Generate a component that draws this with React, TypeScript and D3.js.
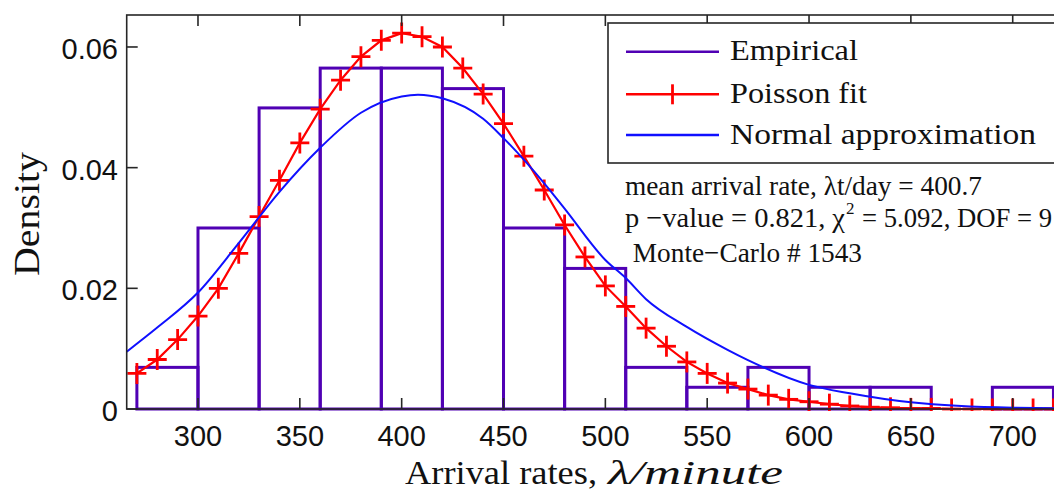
import React from "react";
import * as d3 from "d3";

// ---- data ----
const binStarts = [270, 300, 330, 360, 390, 420, 450, 480, 510, 540, 570, 600, 630, 660, 690];
const binWidth = 30;
const empiricalDensity = [0.0069, 0.0300, 0.0499, 0.0565, 0.0565, 0.0531, 0.0300, 0.0233, 0.0069, 0.0036, 0.0069, 0.0036, 0.0036, 0, 0.0036];

const poissonX = [270, 280, 290, 300, 310, 320, 330, 340, 350, 360, 370, 380, 390, 400, 410, 420, 430, 440, 450, 460, 470, 480, 490, 500, 510, 520, 530, 540, 550, 560, 570, 580, 590, 600, 610, 620, 630, 640, 650, 660, 670, 680, 690, 700, 710, 720, 730];
const poissonY = [0.0059, 0.0082, 0.0115, 0.0154, 0.0200, 0.0258, 0.0319, 0.0379, 0.0441, 0.0497, 0.0545, 0.0584, 0.0611, 0.0623, 0.0617, 0.0600, 0.0565, 0.0522, 0.0473, 0.0419, 0.0363, 0.0305, 0.0252, 0.0204, 0.0170, 0.0134, 0.0104, 0.0078, 0.0059, 0.0043, 0.0033, 0.0023, 0.0016, 0.0012, 0.0008, 0.0005, 0.0003, 0.0002, 0.0001, 0.0001, 0, 0, 0, 0, 0, 0, 0];

const normalX = [265, 280, 300, 320, 340, 360, 380, 400, 408, 420, 440, 450, 470, 480, 500, 510, 520, 540, 560, 570, 600, 620, 650, 700, 735];
const normalY = [0.0095, 0.0135, 0.0193, 0.0275, 0.0360, 0.0433, 0.0491, 0.0518, 0.0521, 0.0515, 0.0481, 0.0449, 0.0374, 0.0332, 0.0247, 0.0217, 0.0182, 0.0136, 0.0098, 0.0081, 0.0040, 0.0026, 0.0011, 0.0002, 0.0001];

const xTicks = [300, 350, 400, 450, 500, 550, 600, 650, 700];
const yTicks = [0, 0.02, 0.04, 0.06];
const yTickLabels = ["0", "0.02", "0.04", "0.06"];

const legendLabels = ["Empirical", "Poisson fit", "Normal approximation"];
const annotation1 = "mean arrival rate, \u03bbt/day = 400.7";
const annotation2a = "p \u2212value = 0.821, \u03c7";
const annotation2b = "2";
const annotation2c = "= 5.092, DOF = 9";
const annotation3 = " Monte\u2212Carlo # 1543";

const PURPLE = "#5000b4";
const RED = "#ff0000";
const BLUE = "#1010ff";
const AXIS = "#262626";
const SERIF = "'Liberation Serif', 'Times New Roman', serif";
const SANS = "'Liberation Sans', Arial, Helvetica, sans-serif";

export default function App() {
  const W = 1054, H = 490;
  const x = d3.scaleLinear().domain([265, 735]).range([126.7, 1084]);
  const y = d3.scaleLinear().domain([0, 0.0653]).range([409, 15]);
  const left = x(265), right = x(735), top = y(0.0653), bottom = y(0);

  const poissonPts: [number, number][] = poissonX.map((v, i) => [v, poissonY[i]]);
  const normalPts: [number, number][] = normalX.map((v, i) => [v, normalY[i]]);
  const redLine = d3.line<[number, number]>().x(d => x(d[0])).y(d => y(d[1]))(poissonPts) || "";
  const blueLine = d3.line<[number, number]>().x(d => x(d[0])).y(d => y(d[1])).curve(d3.curveMonotoneX)(normalPts) || "";

  const M = 9.5;
  const tickLen = 11;

  const legY = [51.7, 94.3, 135];
  const legColors = [PURPLE, RED, BLUE];
  const legTextW = [128, 137, 306];

  return (
    <div style={{ position: "absolute", left: 0, top: 0, width: W, height: H, overflow: "hidden", background: "#fff" }}>
      <svg width={W} height={H} style={{ display: "block" }}>
        <defs>
          <clipPath id="plot">
            <rect x={left} y={top - 2} width={right - left} height={bottom - top + 4} />
          </clipPath>
        </defs>
        <rect x={0} y={0} width={W} height={H} fill="#fff" />
        <g clipPath="url(#plot)">
          {binStarts.map((b, i) =>
            empiricalDensity[i] > 0 ? (
              <rect key={"bar" + i} x={x(b)} y={y(empiricalDensity[i])} width={x(b + binWidth) - x(b)} height={bottom - y(empiricalDensity[i])}
                fill="none" stroke={PURPLE} strokeWidth={3} />
            ) : null
          )}
          <path d={redLine} fill="none" stroke={RED} strokeWidth={2.2} />
          {poissonPts.map((p, i) => (
            <g key={"m" + i} stroke={RED} strokeWidth={2.8}>
              <line x1={x(p[0]) - M} x2={x(p[0]) + M} y1={y(p[1])} y2={y(p[1])} />
              <line x1={x(p[0])} x2={x(p[0])} y1={y(p[1]) - M - 1} y2={y(p[1]) + M + 1} />
            </g>
          ))}
          <path d={blueLine} fill="none" stroke={BLUE} strokeWidth={2} />
        </g>
        {/* axes box */}
        <rect x={left} y={top} width={right - left} height={bottom - top} fill="none" stroke={AXIS} strokeWidth={1.6} />
        {xTicks.map(t => (
          <g key={"xt" + t} stroke={AXIS} strokeWidth={1.6}>
            <line x1={x(t)} x2={x(t)} y1={bottom} y2={bottom - tickLen} />
            <line x1={x(t)} x2={x(t)} y1={top} y2={top + tickLen} />
          </g>
        ))}
        {yTicks.map(t => (
          <line key={"yt" + t} x1={left} x2={left + tickLen} y1={y(t)} y2={y(t)} stroke={AXIS} strokeWidth={1.6} />
        ))}
        {xTicks.map(t => (
          <text key={"xl" + t} x={x(t)} y={446} textAnchor="middle" fontFamily={SANS} fontSize={29} fill="#111">{t}</text>
        ))}
        {yTicks.map((t, i) => (
          <text key={"yl" + t} x={118} y={y(t) + 12} textAnchor="end" fontFamily={SANS} fontSize={29} fill="#111">{yTickLabels[i]}</text>
        ))}
        {/* axis labels */}
        <text x={405} y={484} fontFamily={SERIF} fontSize={34} fill="#111" textLength={192} lengthAdjust="spacingAndGlyphs">Arrival rates,</text>
        <text x={608} y={484} fontFamily={SERIF} fontSize={34} fontStyle="italic" fill="#111" textLength={175} lengthAdjust="spacingAndGlyphs">{"\u03bb/minute"}</text>
        <text transform="translate(39,276) rotate(-90)" x={0} y={0} fontFamily={SERIF} fontSize={35} fill="#111" textLength={124} lengthAdjust="spacingAndGlyphs">Density</text>
        {/* legend */}
        <rect x={608} y={23} width={520} height={140} fill="#fff" stroke={AXIS} strokeWidth={1.6} />
        {legendLabels.map((l, i) => (
          <g key={"lg" + i}>
            <line x1={626} x2={719} y1={legY[i]} y2={legY[i]} stroke={legColors[i]} strokeWidth={2.5} />
            {i === 1 ? <line x1={672.5} x2={672.5} y1={legY[i] - 10} y2={legY[i] + 10} stroke={RED} strokeWidth={2.8} /> : null}
            <text x={730} y={legY[i] + 8.5} fontFamily={SERIF} fontSize={30} fill="#111" textLength={legTextW[i]} lengthAdjust="spacingAndGlyphs">{l}</text>
          </g>
        ))}
        {/* annotation */}
        <text x={625} y={195} fontFamily={SERIF} fontSize={28} fill="#111" textLength={357} lengthAdjust="spacingAndGlyphs">{annotation1}</text>
        <text x={625} y={227} fontFamily={SERIF} fontSize={28} fill="#111" textLength={220} lengthAdjust="spacingAndGlyphs">{annotation2a}</text>
        <text x={846} y={214} fontFamily={SERIF} fontSize={17} fill="#111">{annotation2b}</text>
        <text x={862} y={227} fontFamily={SERIF} fontSize={28} fill="#111" textLength={190} lengthAdjust="spacingAndGlyphs">{annotation2c}</text>
        <text x={626} y={262} fontFamily={SERIF} fontSize={28} fill="#111" textLength={236} lengthAdjust="spacingAndGlyphs" xmlSpace="preserve">{annotation3}</text>
      </svg>
    </div>
  );
}
